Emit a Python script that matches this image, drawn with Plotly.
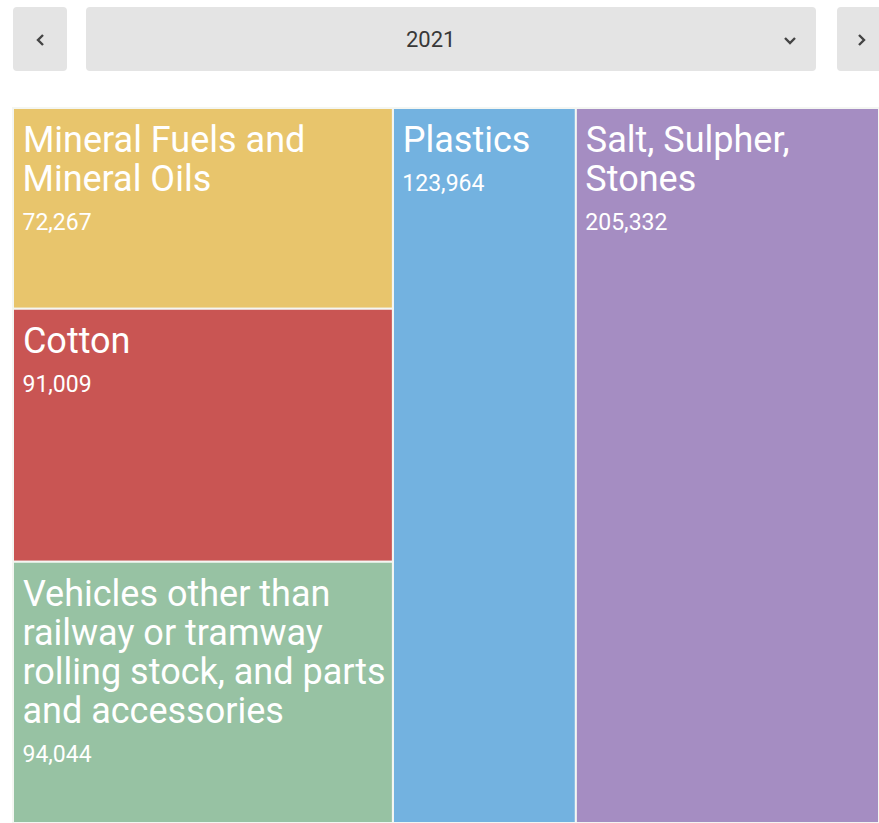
import plotly.graph_objects as go

# Export categories for the selected year
categories = [
    "Mineral Fuels and Mineral Oils",
    "Cotton",
    "Vehicles other than railway or tramway rolling stock, and parts and accessories",
    "Plastics",
    "Salt, Sulpher, Stones",
]
label_lines = [
    ["Mineral Fuels and", "Mineral Oils"],
    ["Cotton"],
    ["Vehicles other than", "railway or tramway", "rolling stock, and parts", "and accessories"],
    ["Plastics"],
    ["Salt, Sulpher,", "Stones"],
]
values = [72267, 91009, 94044, 123964, 205332]
colors = ["#E8C56C", "#C95553", "#97C2A3", "#73B2E0", "#A58DC2"]
# the first three categories share one column
column_group = ["col", "col", "col", "", ""]
year = "2021"

LABEL_SIZE = 36
VALUE_SIZE = 23
INDENT = "<span style='font-size:26px'>\u00a0</span>"
# a taller, tightly spaced blank on the first line pushes the block down from the tile edge
FIRST_INDENT = "<span style='font-size:44px;letter-spacing:-4px'>\u00a0</span>"


def tile_text(lines):
    out = []
    for i, line in enumerate(lines):
        lead = FIRST_INDENT if i == 0 else INDENT
        out.append(f"{lead}<span style='font-size:{LABEL_SIZE}px'>{line}</span>")
    return "<br>".join(out)


ids = ["root", "col"] + [f"c{i}" for i in range(len(categories))]
labels = ["", ""] + categories
parents = ["", "root"] + [("col" if g == "col" else "root") for g in column_group]
vals = [0, 0] + values
texts = ["", ""] + [tile_text(l) for l in label_lines]
templates = ["", ""] + [
    "%{text}<br>" + INDENT + f"<span style='font-size:{VALUE_SIZE}px'>" + "%{value:,}</span>"
] * len(categories)
node_colors = ["#FFFFFF", "#FFFFFF"] + colors

fig = go.Figure(
    go.Treemap(
        ids=ids,
        labels=labels,
        parents=parents,
        values=vals,
        text=texts,
        texttemplate=templates,
        textposition="top left",
        branchvalues="remainder",
        sort=False,
        tiling=dict(packing="slice-dice", pad=0),
        marker=dict(
            colors=node_colors,
            line=dict(color="#F4F6F2", width=2),
            pad=dict(t=0, l=0, r=0, b=0),
        ),
        pathbar=dict(visible=False),
        textfont=dict(family="Roboto", size=30, color="#FFFFFF"),
        hoverinfo="skip",
        domain=dict(x=[13 / 879, 1.0], y=[0.0, 1 - 108 / 823]),
    )
)

W, H = 879, 823


def px(x):
    return x / W


def py(y):
    return 1 - y / H


def rounded_rect(x0, y0, x1, y1, r):
    # rounded rectangle path in paper coordinates, pixel inputs
    pts = (
        f"M {px(x0 + r)} {py(y0)} L {px(x1 - r)} {py(y0)} "
        f"Q {px(x1)} {py(y0)} {px(x1)} {py(y0 + r)} "
        f"L {px(x1)} {py(y1 - r)} Q {px(x1)} {py(y1)} {px(x1 - r)} {py(y1)} "
        f"L {px(x0 + r)} {py(y1)} Q {px(x0)} {py(y1)} {px(x0)} {py(y1 - r)} "
        f"L {px(x0)} {py(y0 + r)} Q {px(x0)} {py(y0)} {px(x0 + r)} {py(y0)} Z"
    )
    return dict(type="path", xref="paper", yref="paper", path=pts,
                fillcolor="#E4E4E4", line=dict(width=0), layer="below")


def chevron(points):
    path = "M " + " L ".join(f"{px(x)} {py(y)}" for x, y in points)
    return dict(type="path", xref="paper", yref="paper", path=path,
                line=dict(color="#444444", width=2.4))


shapes = [
    rounded_rect(13, 7, 67, 71, 4),
    rounded_rect(86, 7, 816, 71, 4),
    rounded_rect(837, 7, 900, 71, 4),
    chevron([(43, 35), (38, 40), (43, 45)]),
    chevron([(785, 38), (790, 43), (795, 38)]),
    chevron([(859, 35), (864, 40), (859, 45)]),
]

fig.update_layout(
    width=W,
    height=H,
    margin=dict(l=0, r=0, t=0, b=0),
    paper_bgcolor="#FFFFFF",
    shapes=shapes,
    annotations=[
        dict(text=year, x=px(430), y=py(40), xref="paper", yref="paper",
             showarrow=False, font=dict(family="Roboto", size=22, color="#383838"),
             xanchor="center", yanchor="middle"),
    ],
)

fig.write_html("out.html")
